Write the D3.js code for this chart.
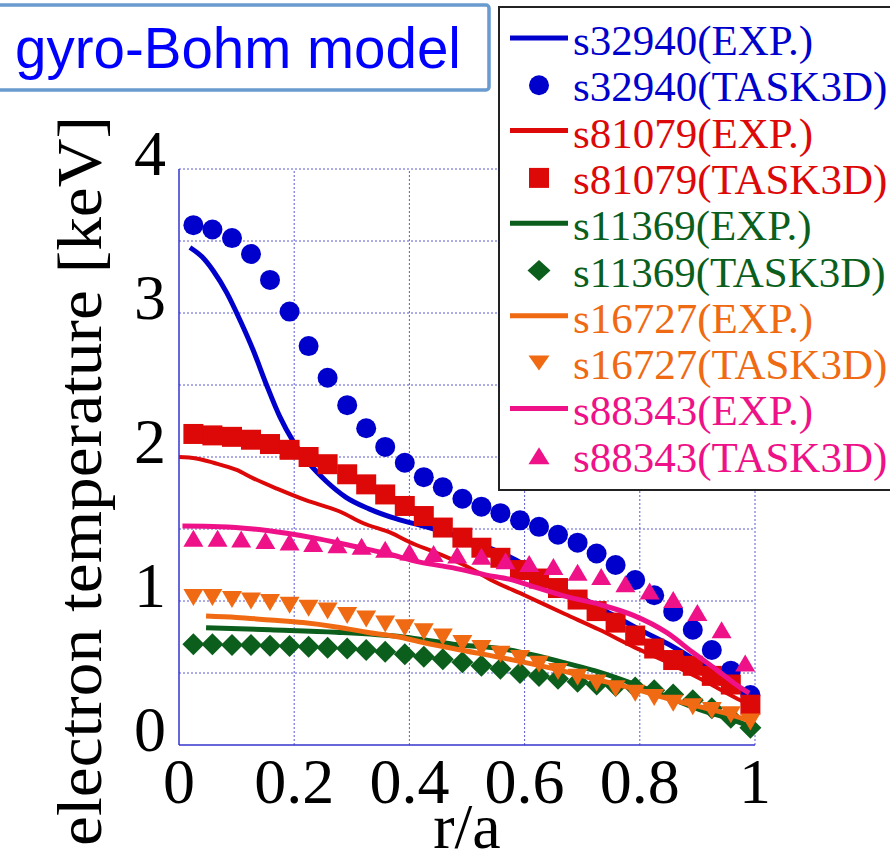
<!DOCTYPE html>
<html>
<head>
<meta charset="utf-8">
<script src="https://cdn.jsdelivr.net/npm/d3@7"></script>
<style>
  html, body { margin: 0; padding: 0; background: #fff; }
  svg { display: block; }
</style>
</head>
<body>
<svg id="chart" width="890" height="863"></svg>
<script>
// ---- radial grids (r/a) ----
const rho30 = [0.025, 0.058, 0.092, 0.125, 0.158, 0.192, 0.225, 0.258, 0.292, 0.325,
               0.358, 0.392, 0.425, 0.458, 0.492, 0.525, 0.558, 0.592, 0.625, 0.658,
               0.692, 0.725, 0.758, 0.792, 0.825, 0.858, 0.892, 0.925, 0.958, 0.992];
const rho24 = [0.025, 0.067, 0.108, 0.150, 0.192, 0.233, 0.275, 0.317, 0.358, 0.400,
               0.442, 0.483, 0.525, 0.567, 0.608, 0.650, 0.692, 0.733, 0.775, 0.817,
               0.858, 0.900, 0.942, 0.983];

// ---- s32940 ----
const s32940ExpR = [0.019, 0.04, 0.06, 0.083, 0.106, 0.129, 0.152, 0.175, 0.198, 0.227, 0.256,
                    0.29, 0.33, 0.378, 0.424, 0.476, 0.517, 0.55, 0.6, 0.65, 0.7, 0.75, 0.8,
                    0.85, 0.9, 0.95, 0.99];
const s32940ExpT = [3.455, 3.39, 3.29, 3.14, 2.95, 2.74, 2.50, 2.28, 2.11, 1.95, 1.83,
                    1.72, 1.64, 1.57, 1.52, 1.46, 1.40, 1.35, 1.25, 1.11, 1.02, 0.91, 0.80,
                    0.70, 0.58, 0.44, 0.33];
const s32940Task = [3.61, 3.58, 3.52, 3.41, 3.23, 3.01, 2.77, 2.55, 2.36, 2.20,
                    2.07, 1.96, 1.86, 1.79, 1.71, 1.655, 1.61, 1.56, 1.515, 1.46,
                    1.405, 1.33, 1.25, 1.146, 1.04, 0.926, 0.80, 0.66, 0.516, 0.347];

// ---- s81079 ----
const s81079ExpR = [0, 0.03, 0.06, 0.1, 0.13, 0.17, 0.22, 0.28, 0.32, 0.37, 0.4, 0.45,
                    0.5, 0.54, 0.6, 0.67, 0.73, 0.79, 0.85, 0.91, 0.97, 0.99];
const s81079ExpT = [2.0, 1.99, 1.96, 1.91, 1.85, 1.78, 1.70, 1.62, 1.54, 1.47, 1.41, 1.33,
                    1.24, 1.15, 1.04, 0.91, 0.80, 0.68, 0.57, 0.45, 0.32, 0.28];
const s81079Task = [2.16, 2.15, 2.14, 2.12, 2.09, 2.05, 2.00, 1.95, 1.88, 1.81,
                    1.74, 1.66, 1.59, 1.51, 1.44, 1.37, 1.30, 1.215, 1.156, 1.09,
                    1.01, 0.93, 0.85, 0.76, 0.67, 0.59, 0.55, 0.48, 0.42, 0.28];

// ---- s11369 ----
const s11369ExpR = [0.047, 0.158, 0.273, 0.389, 0.476, 0.574, 0.615, 0.673, 0.731, 0.789,
                    0.847, 0.904, 0.962, 0.997];
const s11369ExpT = [0.815, 0.80, 0.783, 0.75, 0.70, 0.66, 0.625, 0.567, 0.505, 0.425,
                    0.335, 0.245, 0.175, 0.12];
const s11369Task = [0.70, 0.70, 0.695, 0.695, 0.69, 0.688, 0.683, 0.676, 0.67, 0.66,
                    0.648, 0.63, 0.613, 0.595, 0.574, 0.55, 0.53, 0.50, 0.48, 0.46,
                    0.44, 0.42, 0.41, 0.40, 0.38, 0.35, 0.31, 0.255, 0.19, 0.12];

// ---- s16727 ----
const s16727ExpR = [0.047, 0.1, 0.158, 0.215, 0.273, 0.331, 0.389, 0.418, 0.476, 0.574,
                    0.65, 0.7, 0.75, 0.8, 0.85, 0.9, 0.95, 0.99];
const s16727ExpT = [0.896, 0.886, 0.868, 0.85, 0.82, 0.78, 0.745, 0.717, 0.67, 0.595,
                    0.53, 0.48, 0.43, 0.38, 0.32, 0.27, 0.22, 0.17];
const s16727Task = [1.025, 1.025, 1.01, 1.00, 0.99, 0.97, 0.95, 0.93, 0.90, 0.875,
                    0.84, 0.815, 0.787, 0.75, 0.705, 0.67, 0.63, 0.60, 0.56, 0.51,
                    0.47, 0.43, 0.39, 0.36, 0.33, 0.29, 0.265, 0.24, 0.21, 0.16];

// ---- s88343 ----
const s88343ExpR = [0.006, 0.071, 0.129, 0.187, 0.245, 0.303, 0.36, 0.418, 0.476, 0.534,
                    0.575, 0.615, 0.673, 0.731, 0.789, 0.847, 0.893, 0.934, 0.974, 0.99];
const s88343ExpT = [1.52, 1.516, 1.50, 1.47, 1.43, 1.38, 1.33, 1.27, 1.23, 1.18,
                    1.15, 1.10, 1.03, 0.975, 0.90, 0.78, 0.64, 0.52, 0.40, 0.36];
const s88343Task = [1.435, 1.435, 1.43, 1.42, 1.41, 1.40, 1.39, 1.38, 1.36, 1.34,
                    1.33, 1.32, 1.31, 1.28, 1.26, 1.24, 1.20, 1.17, 1.12, 1.07,
                    1.01, 0.92, 0.80, 0.57];

// ---- axes ----
const xTicks = [0, 0.2, 0.4, 0.6, 0.8, 1];
const xTickLabels = ["0", "0.2", "0.4", "0.6", "0.8", "1"];
const yTicks = [0, 1, 2, 3, 4];
const yGrid = [0.5, 1, 1.5, 2, 2.5, 3, 3.5, 4];
const titleText = "gyro-Bohm model";
const xLabel = "r/a";
const yLabel = "electron temperature [keV]";

const series = [
  { name: "s32940(EXP.)",    color: "#0000cc", kind: "line",   r: s32940ExpR, t: s32940ExpT, w: 5 },
  { name: "s32940(TASK3D)",  color: "#0000cc", kind: "circle", r: rho30,      t: s32940Task },
  { name: "s81079(EXP.)",    color: "#dd0808", kind: "line",   r: s81079ExpR, t: s81079ExpT, w: 4 },
  { name: "s81079(TASK3D)",  color: "#dd0808", kind: "square", r: rho30,      t: s81079Task },
  { name: "s11369(EXP.)",    color: "#0b5e1c", kind: "line",   r: s11369ExpR, t: s11369ExpT, w: 5 },
  { name: "s11369(TASK3D)",  color: "#0b5e1c", kind: "diamond",r: rho30,      t: s11369Task },
  { name: "s16727(EXP.)",    color: "#ef6a12", kind: "line",   r: s16727ExpR, t: s16727ExpT, w: 5 },
  { name: "s16727(TASK3D)",  color: "#ef6a12", kind: "tridown",r: rho30,      t: s16727Task },
  { name: "s88343(EXP.)",    color: "#ee1187", kind: "line",   r: s88343ExpR, t: s88343ExpT, w: 5 },
  { name: "s88343(TASK3D)",  color: "#ee1187", kind: "triup",  r: rho24,      t: s88343Task }
];

const svg = d3.select("#chart");
const serif = "'Liberation Serif', 'Times New Roman', serif";
const sans = "'Liberation Sans', Arial, sans-serif";

const x = d3.scaleLinear().domain([0, 1]).range([179, 755]);
const y = d3.scaleLinear().domain([0, 4]).range([745, 169]);

// marker path builders (centred on the bounding box)
function markerPath(kind, s) {
  const p = d3.path();
  if (kind === "circle") { p.arc(0, 0, s.r, 0, 2 * Math.PI); }
  else if (kind === "square") { p.rect(-s.h, -s.h, 2 * s.h, 2 * s.h); }
  else if (kind === "diamond") { p.moveTo(0, -s.hh); p.lineTo(s.hw, 0); p.lineTo(0, s.hh); p.lineTo(-s.hw, 0); p.closePath(); }
  else if (kind === "tridown") { p.moveTo(-s.hw, -s.hh); p.lineTo(s.hw, -s.hh); p.lineTo(0, s.hh); p.closePath(); }
  else if (kind === "triup") { p.moveTo(0, -s.hh); p.lineTo(s.hw, s.hh); p.lineTo(-s.hw, s.hh); p.closePath(); }
  return p.toString();
}
const markerSize = {
  circle: { r: 10 }, square: { h: 10 }, diamond: { hw: 11, hh: 11 },
  tridown: { hw: 10, hh: 8.5 }, triup: { hw: 10, hh: 8.5 }
};

// ---- grid ----
const grid = svg.append("g").attr("stroke", "#5a5ad8").attr("stroke-width", 1)
  .attr("stroke-dasharray", "2,2");
grid.selectAll("line.h").data(yGrid).join("line").attr("class", "h")
  .attr("x1", x(0)).attr("x2", x(1)).attr("y1", d => y(d)).attr("y2", d => y(d));
grid.selectAll("line.v").data(xTicks.slice(1)).join("line").attr("class", "v")
  .attr("x1", d => x(d)).attr("x2", d => x(d)).attr("y1", y(0)).attr("y2", y(4));

// solid left and bottom frame
svg.append("line").attr("x1", x(0)).attr("x2", x(0)).attr("y1", y(0)).attr("y2", y(4))
  .attr("stroke", "#3434cc").attr("stroke-width", 1.5);
svg.append("line").attr("x1", x(0)).attr("x2", x(1)).attr("y1", y(0)).attr("y2", y(0))
  .attr("stroke", "#3434cc").attr("stroke-width", 1.5);

// ---- data ----
const lineGen = d3.line().x(d => x(d[0])).y(d => y(d[1])).curve(d3.curveMonotoneX);
const plot = svg.append("g");
series.forEach(s => {
  const pts = s.r.map((r, i) => [r, s.t[i]]);
  if (s.kind === "line") {
    plot.append("path").datum(pts).attr("d", lineGen)
      .attr("fill", "none").attr("stroke", s.color).attr("stroke-width", s.w)
      .attr("stroke-linejoin", "round");
  } else {
    const d = markerPath(s.kind, markerSize[s.kind]);
    plot.append("g").selectAll("path").data(pts).join("path")
      .attr("d", d).attr("fill", s.color)
      .attr("transform", p => `translate(${x(p[0])},${y(p[1])})`);
  }
});

// ---- axes text ----
svg.append("g").selectAll("text").data(xTicks).join("text")
  .attr("x", d => x(d)).attr("y", 803).attr("text-anchor", "middle")
  .attr("font-family", serif).attr("font-size", 64).attr("fill", "#000")
  .text((d, i) => xTickLabels[i]);
svg.append("g").selectAll("text").data(yTicks).join("text")
  .attr("x", 166).attr("y", d => y(d) + 6).attr("text-anchor", "end")
  .attr("font-family", serif).attr("font-size", 64).attr("fill", "#000")
  .text(d => d);
svg.append("text").attr("x", x(0.5)).attr("y", 848).attr("text-anchor", "middle")
  .attr("font-family", serif).attr("font-size", 64).attr("fill", "#000").text(xLabel);
svg.append("text")
  .attr("transform", "translate(101,481) rotate(-90) scale(1.07,1)")
  .attr("text-anchor", "middle")
  .attr("font-family", serif).attr("font-size", 63).attr("fill", "#000").text(yLabel);

// ---- title box ----
svg.append("rect").attr("x", -6).attr("y", 5).attr("width", 495).attr("height", 85)
  .attr("rx", 3).attr("fill", "#fff").attr("stroke", "#6a9bcf").attr("stroke-width", 3.5);
svg.append("text").attr("x", 15).attr("y", 68)
  .attr("font-family", sans).attr("font-size", 56.5).attr("fill", "#0000ff").text(titleText);

// ---- legend ----
const lg = svg.append("g");
lg.append("rect").attr("x", 499).attr("y", 7).attr("width", 400).attr("height", 483)
  .attr("fill", "#fff").attr("stroke", "#222").attr("stroke-width", 2);
const legendMarker = {
  circle: { r: 10 }, square: { h: 10 }, diamond: { hw: 11.5, hh: 10.5 },
  tridown: { hw: 10.5, hh: 7.5 }, triup: { hw: 10.5, hh: 8.5 }
};
series.forEach((s, i) => {
  const base = 55 + 46.3 * i;
  if (s.kind === "line") {
    lg.append("line").attr("x1", 510).attr("x2", 568).attr("y1", base - 17).attr("y2", base - 17)
      .attr("stroke", s.color).attr("stroke-width", 5);
  } else {
    lg.append("path").attr("d", markerPath(s.kind, legendMarker[s.kind]))
      .attr("fill", s.color).attr("transform", `translate(539,${base - 16})`);
  }
  lg.append("text").attr("x", 573).attr("y", base)
    .attr("font-family", serif).attr("font-size", 43).attr("fill", s.color).text(s.name);
});
</script>
</body>
</html>
